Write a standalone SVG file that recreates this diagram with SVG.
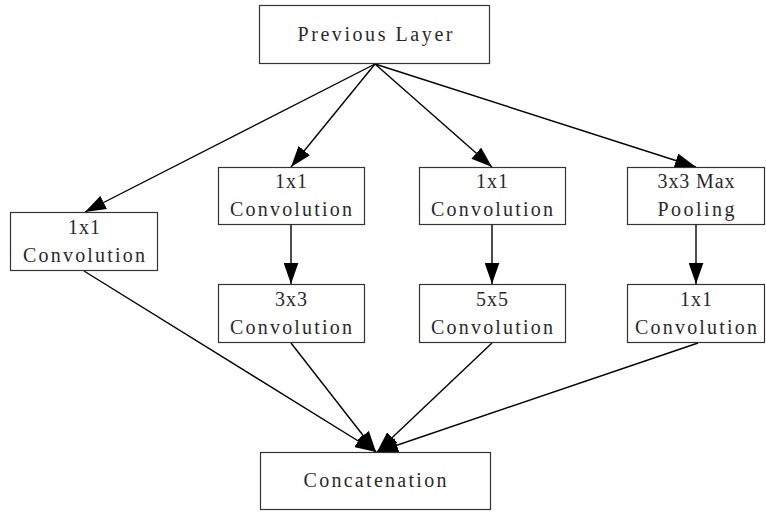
<svg xmlns="http://www.w3.org/2000/svg" width="766" height="513" viewBox="0 0 766 513">
  <style>
    .box { fill: #ffffff; stroke: #333333; stroke-width: 1.2; }
    .lbl { font-family: "Liberation Serif", "DejaVu Serif", serif; font-size: 20px; fill: #2a2a2a; text-anchor: middle; }
    .edge { stroke: #000000; stroke-width: 1.4; fill: none; marker-end: url(#head); }
  </style>
  <defs>
    <marker id="head" markerUnits="userSpaceOnUse" markerWidth="21" markerHeight="15" viewBox="0 0 20 14" refX="20" refY="7" orient="auto">
      <path d="M0,0 L20,7 L0,14 Z" fill="#000000"/>
    </marker>
  </defs>
  <rect width="766" height="513" fill="#ffffff"/>

  <g id="connectors">
    <line class="edge" x1="375" y1="64" x2="85" y2="212"/>
    <line class="edge" x1="375" y1="64" x2="291" y2="167"/>
    <line class="edge" x1="375" y1="64" x2="492" y2="167"/>
    <line class="edge" x1="375" y1="64" x2="696" y2="167"/>
    <line class="edge" x1="291" y1="224" x2="291" y2="284"/>
    <line class="edge" x1="492" y1="225" x2="492" y2="284"/>
    <line class="edge" x1="696" y1="225" x2="696" y2="284"/>
    <line class="edge" x1="84" y1="271" x2="376" y2="452"/>
    <line class="edge" x1="291" y1="343" x2="376" y2="452"/>
    <line class="edge" x1="492" y1="343" x2="377" y2="452"/>
    <line class="edge" x1="698" y1="343" x2="377" y2="452"/>
  </g>

  <!-- labels are spread to a fixed 11.2px advance per character -->
  <g id="previous-layer">
    <rect class="box" x="259.5" y="5.5" width="230" height="58"/>
    <text class="lbl" x="375" y="41" textLength="155" lengthAdjust="spacing">Previous Layer</text>
  </g>

  <g id="conv1x1-a">
    <rect class="box" x="10.5" y="212.5" width="147" height="58"/>
    <text class="lbl" x="84" y="234" textLength="32" lengthAdjust="spacing">1x1</text>
    <text class="lbl" x="84" y="262" textLength="122" lengthAdjust="spacing">Convolution</text>
  </g>

  <g id="conv1x1-b">
    <rect class="box" x="218.5" y="167.5" width="146" height="57"/>
    <text class="lbl" x="291" y="188" textLength="32" lengthAdjust="spacing">1x1</text>
    <text class="lbl" x="291" y="216" textLength="122" lengthAdjust="spacing">Convolution</text>
  </g>

  <g id="conv3x3">
    <rect class="box" x="218.5" y="284.5" width="146" height="58"/>
    <text class="lbl" x="291" y="306" textLength="32" lengthAdjust="spacing">3x3</text>
    <text class="lbl" x="291" y="334" textLength="122" lengthAdjust="spacing">Convolution</text>
  </g>

  <g id="conv1x1-c">
    <rect class="box" x="419.5" y="167.5" width="146" height="57"/>
    <text class="lbl" x="492" y="188" textLength="32" lengthAdjust="spacing">1x1</text>
    <text class="lbl" x="492" y="216" textLength="122" lengthAdjust="spacing">Convolution</text>
  </g>

  <g id="conv5x5">
    <rect class="box" x="419.5" y="284.5" width="146" height="58"/>
    <text class="lbl" x="492" y="306" textLength="32" lengthAdjust="spacing">5x5</text>
    <text class="lbl" x="492" y="334" textLength="122" lengthAdjust="spacing">Convolution</text>
  </g>

  <g id="maxpool3x3">
    <rect class="box" x="627.5" y="167.5" width="137" height="57"/>
    <text class="lbl" x="696" y="188" textLength="77" lengthAdjust="spacing">3x3 Max</text>
    <text class="lbl" x="696" y="216" textLength="77" lengthAdjust="spacing">Pooling</text>
  </g>

  <g id="conv1x1-d">
    <rect class="box" x="627.5" y="284.5" width="137" height="58"/>
    <text class="lbl" x="696" y="306" textLength="32" lengthAdjust="spacing">1x1</text>
    <text class="lbl" x="696" y="334" textLength="122" lengthAdjust="spacing">Convolution</text>
  </g>

  <g id="concatenation">
    <rect class="box" x="260.5" y="452.5" width="230" height="57"/>
    <text class="lbl" x="375" y="487" textLength="143" lengthAdjust="spacing">Concatenation</text>
  </g>
</svg>
